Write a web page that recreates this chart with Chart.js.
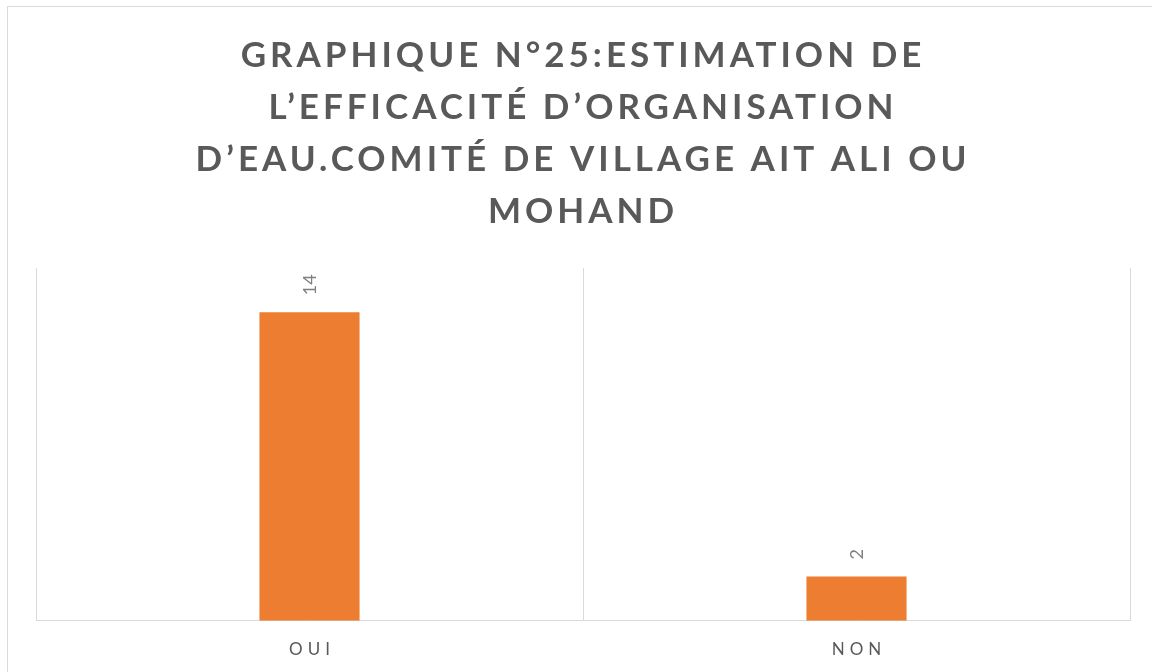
<!DOCTYPE html>
<html>
<head>
<meta charset="utf-8">
<script src="https://cdn.jsdelivr.net/npm/chart.js@4/dist/chart.umd.min.js"></script>
<style>
  html, body { margin: 0; padding: 0; background: #fff; overflow: hidden; }
  #frame { position: absolute; left: 7px; top: 6px; width: 1200px; height: 720px; border: 1px solid #d9d9d9; }
  #wrap { position: absolute; left: 0; top: 0; width: 1152px; height: 672px; }
</style>
</head>
<body>
<div id="frame"></div>
<div id="wrap"><canvas id="myChart" width="1152" height="672"></canvas></div>
<script>
var titleLines = ["GRAPHIQUE N°25:ESTIMATION DE", "L’EFFICACITÉ D’ORGANISATION", "D’EAU.COMITÉ DE VILLAGE AIT ALI OU", "MOHAND"];
var categories = ["OUI", "NON"];
var values = [14, 2];

// letter spacing for title + ticks, value labels drawn above bars
var spacingPlugin = {
   id: 'spacing',
   beforeDraw: function(chart) {
      chart.ctx.letterSpacing = '4px';
   },
   beforeDatasetsDraw: function(chart) {
      chart.ctx.letterSpacing = '0px';
   },
   afterLayout: function(chart) {
      var s = chart.scales.x;
      if (!s._spaced) {
         var f = s.drawLabels;
         s.drawLabels = function(a) {
            var c = this.ctx;
            c.save();
            c.letterSpacing = '5px';
            c.translate(2.5, 0);
            f.call(this, a);
            c.restore();
         };
         s._spaced = true;
      }
   },
   afterDatasetsDraw: function(chart) {
      var ctx = chart.ctx;
      var meta = chart.getDatasetMeta(0);
      ctx.save();
      ctx.letterSpacing = '0px';
      ctx.font = '18px Lato';
      ctx.fillStyle = '#7f7f7f';
      ctx.textAlign = 'left';
      ctx.textBaseline = 'middle';
      meta.data.forEach(function(bar, i) {
         ctx.save();
         ctx.translate(bar.x + 1, bar.y - 17);
         ctx.rotate(-Math.PI / 2);
         ctx.fillText(String(values[i]), 0, 0);
         ctx.restore();
      });
      ctx.restore();
   }
};

var chrt = document.getElementById("myChart").getContext("2d");
var chartId = new Chart(chrt, {
   type: 'bar',
   data: {
      labels: categories,
      datasets: [{
         data: values,
         backgroundColor: '#ed7d31',
         borderWidth: 0,
         categoryPercentage: 1,
         barPercentage: 0.183
      }]
   },
   options: {
      responsive: false,
      animation: false,
      layout: {
         padding: { left: 36, right: 22, top: 0, bottom: -7 }
      },
      plugins: {
         legend: { display: false },
         tooltip: { enabled: false },
         title: {
            display: true,
            text: titleLines,
            color: '#595959',
            font: { family: 'Lato', size: 35, weight: 'bold', lineHeight: 1.48 },
            padding: { top: 30, bottom: 31 }
         }
      },
      scales: {
         x: {
            offset: true,
            grid: { display: true, color: '#d9d9d9', lineWidth: 1, drawTicks: false, offset: true },
            border: { display: true, color: '#d9d9d9' },
            ticks: { color: '#595959', font: { family: 'Lato', size: 17, lineHeight: 0.61 }, padding: 24 }
         },
         y: {
            display: false,
            min: 0,
            max: 16
         }
      }
   },
   plugins: [spacingPlugin]
});
</script>
</body>
</html>
